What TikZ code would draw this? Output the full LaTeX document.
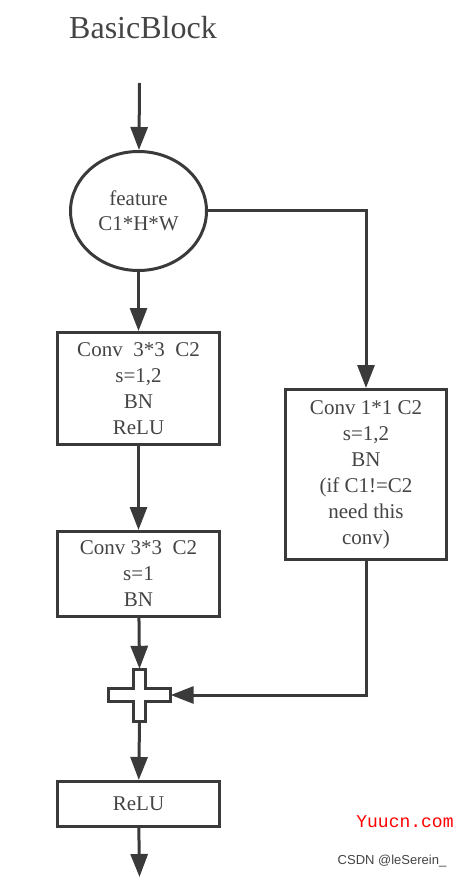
\documentclass[tikz,border=0pt]{standalone}
\usepackage{fontspec}
\setmainfont{Liberation Serif}
\newfontfamily\wmfont{Liberation Mono}
\newfontfamily\csdnfont{Liberation Sans}
\usetikzlibrary{arrows.meta,shapes.geometric}
\definecolor{ink}{HTML}{3A3A3A}
\definecolor{txt}{HTML}{444444}
\tikzset{
    blk/.style={draw=ink, line width=3pt, rectangle, align=center, text=txt,
        font=\fontsize{21}{26}\selectfont, inner sep=0pt, minimum width=162pt},
    flow/.style={draw=ink, line width=3pt, -{Triangle[length=23pt,width=17pt]}},
}
\begin{document}
\begin{tikzpicture}[x=1pt,y=-1pt]
        \useasboundingbox (0,0) rectangle (466,877);

        \node[text=txt, font=\fontsize{32}{36}\selectfont] (title) at (143,28) {BasicBlock};

        \coordinate (in) at (139.5,83);
        \node[draw=ink, line width=3pt, ellipse, minimum width=136pt, minimum height=119pt,
            inner sep=0pt, align=center, text=txt, font=\fontsize{21}{25}\selectfont] (feat) at (138.5,211) {feature\\C1*H*W};
        \node[blk, minimum height=112pt] (conva) at (138.5,388.5) {Conv\ \ 3*3\ \ C2\\s=1,2\\BN\\ReLU};
        \node[blk, minimum height=85pt] (convb) at (138.5,574) {Conv 3*3\ \ C2\\s=1\\BN};
        \node[blk, minimum width=161pt, minimum height=170pt] (short) at (366,474.5) {Conv 1*1 C2\\s=1,2\\BN\\(if C1!=C2\\need this\\conv)};
        \node[inner sep=0pt, minimum width=62pt, minimum height=52pt] (plus) at (139.5,695) {};
        \draw[ink, line width=3pt, fill=white, line join=miter]
            (plus.center) ++(-6,-26) -- ++(12,0) -- ++(0,19.5) -- ++(25,0) -- ++(0,13) -- ++(-25,0)
            -- ++(0,19.5) -- ++(-12,0) -- ++(0,-19.5) -- ++(-25,0) -- ++(0,-13) -- ++(25,0) -- cycle;
        \node[blk, minimum height=45pt] (relu) at (138.5,804) {ReLU};
        \coordinate (out) at (139.5,877);

        \path[flow] (in) -- (feat);
        \path[flow] (feat) -- (conva);
        \path[flow] (conva) -- (convb);
        \path[flow] (convb) -- (plus.north);
        \path[flow] (plus.south) -- (relu);
        \path[flow] (relu) -- (out);
        \path[flow] (feat.east) -| (short.north);
        \path[flow] (short.south) |- (plus.east);

        % watermarks
        \node[text=red, font=\wmfont\fontsize{18}{20}\selectfont] (wm) at (405,822) {Yuucn.com};
        \node[text=txt, font=\csdnfont\fontsize{13}{15}\selectfont] (csdn) at (392,861) {CSDN @leSerein\_};
\end{tikzpicture}
\end{document}
